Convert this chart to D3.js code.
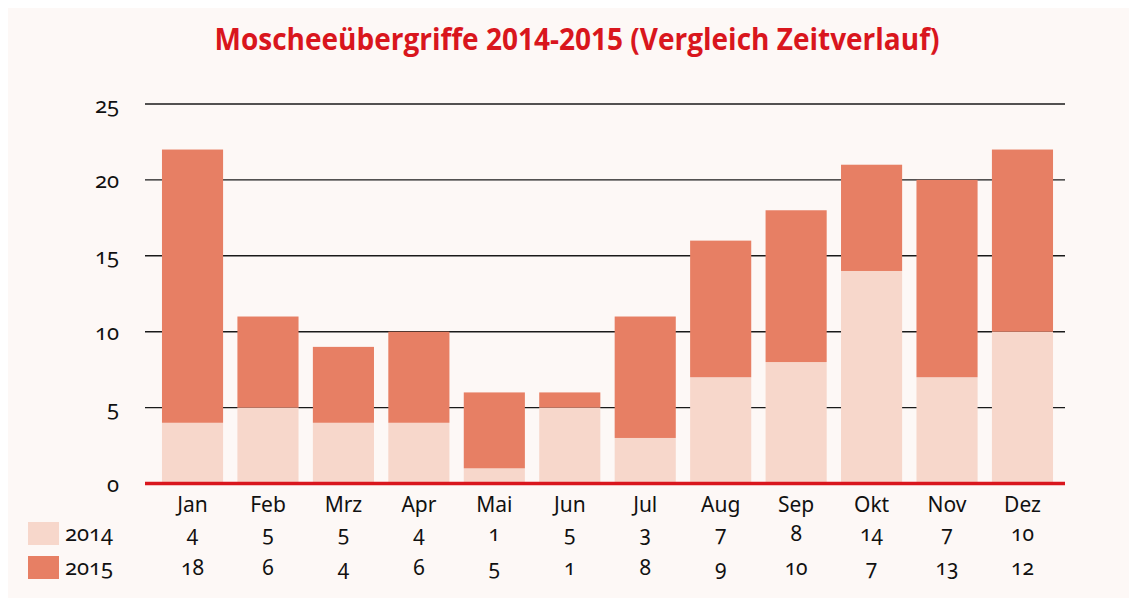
<!DOCTYPE html>
<html>
<head>
<meta charset="utf-8">
<script src="https://cdn.jsdelivr.net/npm/d3@7"></script>
<style>
  html, body { margin: 0; padding: 0; background: #ffffff; }
  svg { display: block; }
  .num { font-family: "Noto Sans", "Open Sans", sans-serif; font-variant-numeric: oldstyle-nums; font-feature-settings: "onum" 1; }
</style>
</head>
<body>
<svg id="chart" width="1129" height="598"></svg>
<script>
const title = "Moscheeübergriffe 2014-2015 (Vergleich Zeitverlauf)";
const months = ["Jan","Feb","Mrz","Apr","Mai","Jun","Jul","Aug","Sep","Okt","Nov","Dez"];
const seriesNames = ["2014", "2015"];
// bar heights as drawn in the chart
const values2014 = [4, 5, 4, 4, 1, 5, 3, 7, 8, 14, 7, 10];
const values2015 = [18, 6, 5, 6, 5, 1, 8, 9, 10, 7, 13, 12];
// numbers printed in the table under the chart
const table2014 = ["4","5","5","4","1","5","3","7","8","14","7","10"];
const table2015 = ["18","6","4","6","5","1","8","9","10","7","13","12"];
const yTicks = [0, 5, 10, 15, 20, 25];

const colors = { "2014": "#f7d7cb", "2015": "#e77f64" };
const red = "#d9161d";

const svg = d3.select("#chart");
svg.append("rect").attr("x", 8).attr("y", 8).attr("width", 1121).attr("height", 590).attr("fill", "#fdf8f6");

svg.append("text")
  .attr("x", 577).attr("y", 50)
  .attr("text-anchor", "middle")
  .attr("font-family", "'Liberation Sans Narrow', 'Open Sans', sans-serif")
  .attr("font-weight", "bold")
  .attr("font-size", 31)
  .attr("fill", red)
  .attr("textLength", 725)
  .attr("lengthAdjust", "spacingAndGlyphs")
  .text(title);

const y = d3.scaleLinear().domain([0, 25]).range([483.5, 104]);
const x = d3.scaleBand().domain(months).range([154.8, 1060.2]).paddingInner(0.19).paddingOuter(0.095);

// grid lines
const grid = svg.append("g");
grid.selectAll("line").data(yTicks.filter(d => d > 0)).join("line")
  .attr("x1", 145).attr("x2", 1065)
  .attr("y1", d => y(d)).attr("y2", d => y(d))
  .attr("stroke", "#1a1a1a").attr("stroke-width", 1.4);

// y axis labels
const yAxis = d3.axisLeft(y).tickValues(yTicks).tickSize(0).tickPadding(0);
const yg = svg.append("g").attr("transform", "translate(119,1)").call(yAxis);
yg.select(".domain").remove();
yg.selectAll("text").attr("class", "num").attr("font-size", 22).attr("fill", "#111");

// stacked bars
const rows = months.map((m, i) => ({ month: m, "2014": values2014[i], "2015": values2015[i] }));
const stack = d3.stack().keys(seriesNames)(rows);
svg.append("g").selectAll("g").data(stack).join("g")
  .attr("fill", d => colors[d.key])
  .selectAll("rect").data(d => d).join("rect")
  .attr("x", d => x(d.data.month))
  .attr("width", x.bandwidth())
  .attr("y", d => y(d[1]))
  .attr("height", d => y(d[0]) - y(d[1]));

// baseline
svg.append("line").attr("x1", 145).attr("x2", 1065)
  .attr("y1", y(0)).attr("y2", y(0))
  .attr("stroke", red).attr("stroke-width", 3.5);

// month labels
const xAxis = d3.axisBottom(x).tickSize(0).tickPadding(0);
const xg = svg.append("g").attr("transform", "translate(0,497)").call(xAxis);
xg.select(".domain").remove();
xg.selectAll("text").attr("font-family", "'Noto Sans', 'Open Sans', sans-serif").attr("font-size", 21).attr("fill", "#111").attr("dy", "0.71em");

// table rows
const tableRows = [
  { key: "2014", vals: table2014, base: 541, sqY: 522 },
  { key: "2015", vals: table2015, base: 575, sqY: 556 }
];
tableRows.forEach(r => {
  svg.append("rect").attr("x", 28).attr("y", r.sqY).attr("width", 31).attr("height", 23).attr("fill", colors[r.key]);
  svg.append("text").attr("class", "num").attr("x", 65).attr("y", r.base)
    .attr("font-size", 22).attr("fill", "#111").text(r.key);
  svg.append("g").selectAll("text").data(r.vals).join("text")
    .attr("class", "num")
    .attr("x", (d, i) => x(months[i]) + x.bandwidth() / 2)
    .attr("y", r.base)
    .attr("text-anchor", "middle")
    .attr("font-size", 21).attr("fill", "#111")
    .text(d => d);
});
</script>
</body>
</html>
